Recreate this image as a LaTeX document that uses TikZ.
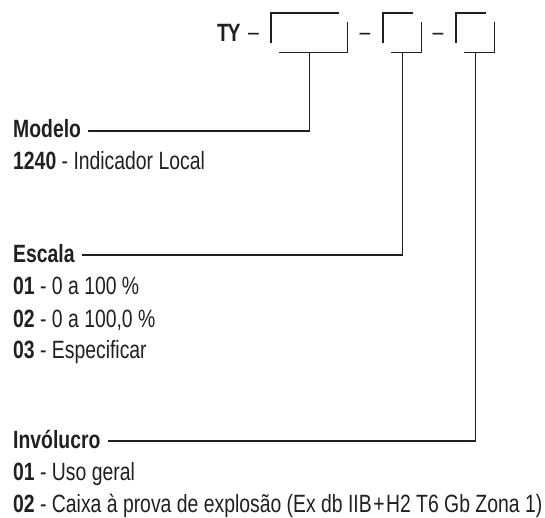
\documentclass[tikz,border=0pt]{standalone}
\usepackage{fontspec}
\setmainfont[FakeStretch=0.775]{Liberation Sans}
\definecolor{ink}{HTML}{231F20}
\begin{document}
\begin{tikzpicture}[x=1pt,y=-1pt,
  lbl/.style={anchor=base west, inner sep=0pt, text=ink, font=\fontsize{25}{30}\selectfont},
  dsh/.style={anchor=base, inner sep=0pt, text=ink, font=\fontsize{25}{30}\selectfont},
  conn/.style={draw=ink, line width=1.4pt},
  slot/.style={inner sep=0pt, minimum height=39pt, anchor=north west, draw=none}]
\useasboundingbox (0,0) rectangle (545,518);
% code header
\node[lbl] (ty) at (217,42) {\textbf{T\kern-1.5ptY}};
\node[dsh] (d1) at (253.5,40.5) {–};
\node[dsh] (d2) at (365,40.5) {–};
\node[dsh] (d3) at (438,40.5) {–};
\node[slot, minimum width=76pt] (s1) at (271,13) {};
\node[slot, minimum width=38pt] (s2) at (383,13) {};
\node[slot, minimum width=38pt] (s3) at (456,13) {};
\foreach \s in {s1,s2,s3}{
  \draw[conn] ([yshift=9pt]\s.south west) -- (\s.north west) -- ([xshift=-8pt]\s.north east);
  \draw[conn] ([xshift=8pt]\s.south west) -- (\s.south east) -- ([yshift=-9pt]\s.north east);
}
% labels
\node[lbl] (modelo) at (13,138) {\textbf{Modelo}};
\node[lbl] (m1) at (13,170) {\textbf{1240} - Indicador Local};
\node[lbl] (escala) at (13,262) {\textbf{Escala}};
\node[lbl] (e1) at (13,294) {\textbf{01} - 0 a 100 \%};
\node[lbl] (e2) at (13,327) {\textbf{02} - 0 a 100,0 \%};
\node[lbl] (e3) at (13,358) {\textbf{03} - Especificar};
\node[lbl] (inv) at (13,448) {\textbf{Invólucro}};
\node[lbl] (i1) at (13,480) {\textbf{01} - Uso geral};
\node[lbl] (i2) at (13,512) {\textbf{02} - Caixa à prova de explosão (Ex db IIB\hspace{1.5pt}+\hspace{1.5pt}H2 T6 Gb Zona 1)};
% connectors
\foreach \s/\l in {s1/modelo,s2/escala,s3/inv}{
  \draw[conn] (\s.south) |- ([xshift=7pt,yshift=7pt]\l.base east);
}
\end{tikzpicture}
\end{document}
